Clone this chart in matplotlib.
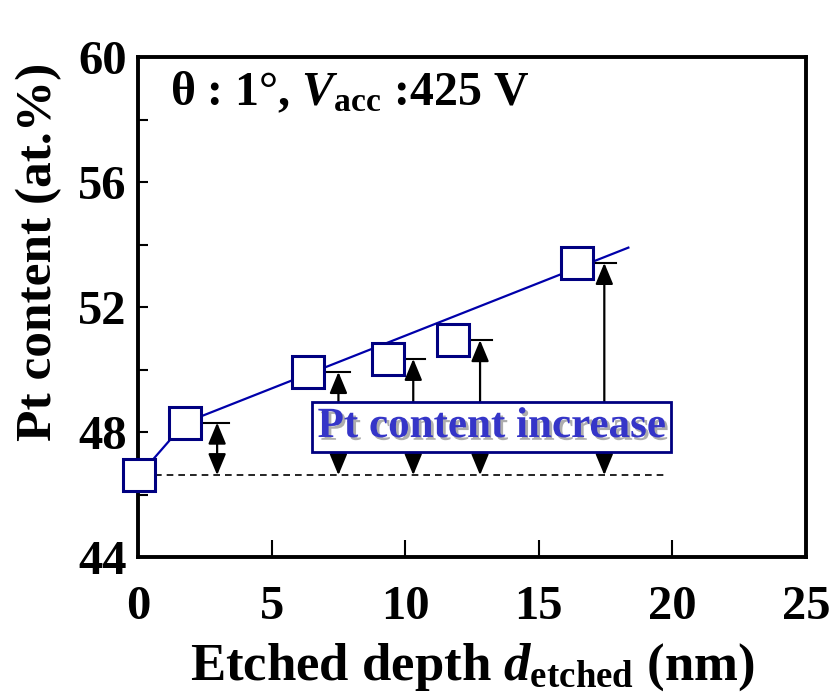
import numpy as np
import matplotlib
matplotlib.use('Agg')
import matplotlib.pyplot as plt
import matplotlib.patheffects as pe

# ── data ─────────────────────────────────────────────────────────────────────
depth_nm   = [0.05, 1.76, 6.37, 9.36, 11.8, 16.44]
pt_content = [46.62, 48.3, 49.92, 50.34, 50.94, 53.41]

# linear trend through the etched points
fit_x = [1.76, 18.35]
fit_y = [48.3, 53.9]

# double arrows: position and top value (the as-deposited level is the bottom)
arrow_x   = [2.96, 7.5, 10.3, 12.8, 17.45]
arrow_top = pt_content[1:]
base_level = pt_content[0]

plt.rcParams['font.family'] = ['Liberation Serif', 'DejaVu Serif']
plt.rcParams['font.weight'] = 'bold'
plt.rcParams['mathtext.fontset'] = 'custom'
plt.rcParams['mathtext.rm'] = 'Liberation Serif:bold'
plt.rcParams['mathtext.it'] = 'Liberation Serif:bold:italic'
plt.rcParams['mathtext.bf'] = 'Liberation Serif:bold'

fig = plt.figure(figsize=(8.34, 6.96), dpi=100)
ax = fig.add_axes([0.1655, 0.1997, 0.801, 0.7184])

NAVY = '#000080'

# baseline (dashed)
ax.plot([0.65, 19.7], [base_level, base_level], ls=(0, (4, 3)), color='black', lw=1.2, zorder=1)

# connecting line and trend line
ax.plot(depth_nm[:2], pt_content[:2], color='#0000aa', lw=1.6, zorder=2)
ax.plot(fit_x, fit_y, color='#0000aa', lw=1.6, zorder=2)

# data squares
ax.plot(depth_nm, pt_content, ls='none', marker='s', ms=23, mfc='white',
        mec=NAVY, mew=2.2, zorder=5, clip_on=False)

# caps + arrows
for xa, top, xp in zip(arrow_x, arrow_top, depth_nm[1:]):
    ax.plot([xp + 0.58, xa + 0.45], [top, top], color='black', lw=1.5, zorder=3)
    ax.annotate('', xy=(xa, top), xytext=(xa, base_level),
                arrowprops=dict(arrowstyle='<|-|>,head_length=0.65,head_width=0.27',
                                mutation_scale=20, color='black', lw=1.6,
                                shrinkA=0, shrinkB=0),
                zorder=3)

# labelled box
txt = ax.text(6.72, 48.16, 'Pt content increase', fontsize=31, fontweight='bold',
              color='#3535c8', ha='left', va='center', zorder=6,
              bbox=dict(boxstyle='square,pad=0.13', fc='white', ec=NAVY, lw=2))
txt.set_path_effects([pe.withSimplePatchShadow(offset=(2, -2), shadow_rgbFace='#999999', alpha=0.8)])

# condition label
ax.text(1.2, 58.85, 'θ : 1°, $V_{\\rm acc}$ :425 V', fontsize=34.5,
        fontweight='bold', ha='left', va='center')

ax.set_xlim(0, 25)
ax.set_ylim(44, 60)
ax.set_xticks([0, 5, 10, 15, 20, 25])
ax.set_yticks([44, 48, 52, 56, 60])
ax.set_yticks([46, 50, 54, 58], minor=True)
ax.tick_params(axis='both', which='major', direction='in', labelsize=35, width=1.5,
               length=12, top=False, right=False)
ax.tick_params(axis='x', which='major', pad=20)
ax.tick_params(axis='y', which='major', length=7, pad=8)
ax.tick_params(axis='y', which='minor', direction='in', length=7, width=1.5)
for lab in ax.get_xticklabels() + ax.get_yticklabels():
    lab.set_fontweight('bold')
for s in ax.spines.values():
    s.set_linewidth(2.8)

ax.set_xlabel(r'Etched depth $d_{\rm etched}$ (nm)', fontsize=38, fontweight='bold')
ax.xaxis.set_label_coords(0.5, -0.168)
ax.set_ylabel('Pt content (at.%)', fontsize=37, fontweight='bold')
ax.yaxis.set_label_coords(-0.113, 0.61)

fig.savefig('out.png', dpi=100)
